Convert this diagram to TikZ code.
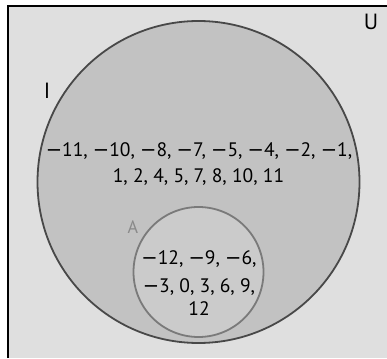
\documentclass[tikz,border=0pt]{standalone}
\usepackage{fontspec}
\setmainfont{PT Sans}
\newfontfamily\minusfont{DejaVu Sans}
\newcommand\mn{{\minusfont −}}
\definecolor{bgfill}{HTML}{DFDFDF}
\definecolor{bigfill}{HTML}{C2C2C2}
\definecolor{bigline}{HTML}{484848}
\definecolor{smallfill}{HTML}{CBCBCB}
\definecolor{smallline}{HTML}{7A7A7A}
\definecolor{alabel}{HTML}{8A8A8A}
\begin{document}
\begin{tikzpicture}[x=1pt,y=1pt,
  every node/.style={inner sep=0pt, outer sep=0pt},
  numtext/.style={font=\fontsize{19.5}{26}\selectfont, text=black, anchor=base},
  setlabel/.style={font=\fontsize{22}{22}\selectfont, text=black, anchor=base},
  setcircle/.style={circle, line width=1.8pt}]
\useasboundingbox (0,0) rectangle (387,358);
\fill[bgfill] (8,0) rectangle (387,352);
\draw[line width=2.8pt] (8,0) -- (8,352) -- (387,352);
\node[setcircle, draw=bigline, fill=bigfill, minimum size=322pt] (I) at (198.5,176) {};
\node[setcircle, draw=smallline, fill=smallfill, minimum size=130pt] (A) at (198.5,86) {};
\node[setlabel] (labU) at (371,328) {U};
\node[setlabel] (labI) at (47,259) {I};
\node[setlabel, font=\fontsize{18}{18}\selectfont, text=alabel] (labA) at (133,124) {A};
\node[numtext] (i1) at (199,201) {\mn11, \mn10, \mn8, \mn7, \mn5, \mn4, \mn2, \mn1,};
\node[numtext] (i2) at (198.5,175) {1, 2, 4, 5, 7, 8, 10, 11};
\node[numtext] (a1) at (199,93) {\mn12, \mn9, \mn6,};
\node[numtext] (a2) at (199,66) {\mn3, 0, 3, 6, 9,};
\node[numtext] (a3) at (199,42) {12};
\end{tikzpicture}
\end{document}
